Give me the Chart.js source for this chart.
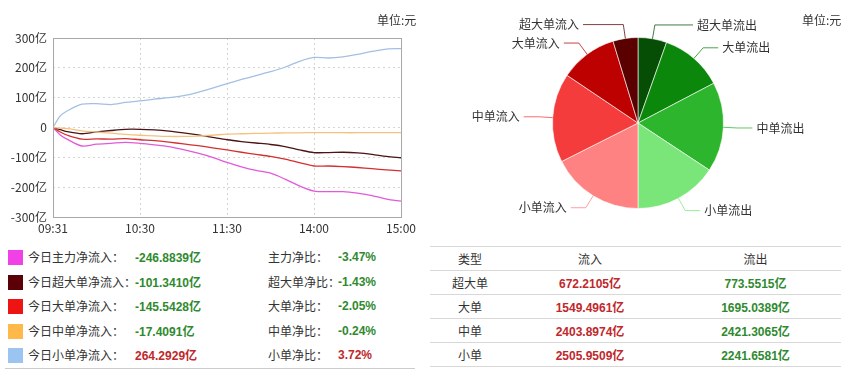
<!DOCTYPE html>
<html>
<head>
<meta charset="utf-8">
<script src="https://cdn.jsdelivr.net/npm/chart.js@4"></script>
<style>
  body { margin: 0; width: 850px; height: 377px; background: #fff; font-family: "Noto Sans CJK SC", "Noto Sans", sans-serif; color: #333; overflow: hidden; }
  #lineBox { position: absolute; left: 0; top: 0; width: 420px; height: 240px; }
  #pieBox { position: absolute; left: 420px; top: 0; width: 430px; height: 240px; }
  .unit { position: absolute; font-size: 12px; top: 11px; }
  #netTable { position: absolute; left: 5px; top: 245px; width: 410px; border-bottom: 1px solid #ccc; }
  .row { position: relative; height: 24.5px; font-size: 12px; }
  .row span { position: absolute; top: 4px; line-height: 16px; white-space: nowrap; }
  .sq { width: 15px; height: 15px; left: 3px; top: 5px !important; }
  .val { font-family: "Liberation Sans", "Noto Sans CJK SC", sans-serif; font-weight: bold; }
  #flowTable { position: absolute; left: 430px; top: 246px; width: 411px; border-collapse: collapse; font-size: 12px; }
  #flowTable td { height: 23px; text-align: center; border-top: 1px solid #d8d8d8; border-bottom: 1px solid #d8d8d8; padding: 0; }
</style>
</head>
<body>
<div id="lineBox"><canvas id="lineChart" width="420" height="240"></canvas></div>
<div class="unit" style="left:377px">单位:元</div>
<div id="pieBox"><canvas id="pieChart" width="430" height="240"></canvas></div>
<div class="unit" style="left:802px">单位:元</div>
<div id="netTable"></div>
<table id="flowTable"></table>
<script>
// minutes since 09:31 (trading minutes, 0..240)
const minutes = [0, 5, 10, 20, 30, 40, 50, 60, 70, 80, 90, 100, 110, 120, 130, 140, 150, 160, 170, 180, 190, 200, 210, 220, 230, 240];
const timeTicks = { 0: "09:31", 60: "10:30", 120: "11:30", 180: "14:00", 240: "15:00" };

const mainNet  = [0, -25, -40, -62, -56, -53, -50, -53, -58, -64, -74, -86, -100, -117, -132, -144, -153, -173, -196, -213, -215, -215, -220, -228, -240, -246.8839];
const superNet = [0, -7, -14, -21, -15, -10, -6, -6, -8, -12, -18, -25, -33, -41, -47, -52, -57, -64, -75, -84, -84, -83, -85, -90, -97, -101.341];
const bigNet   = [0, -15, -26, -39, -38, -39, -37, -41, -44, -49, -55, -61, -68, -75, -83, -90, -97, -106, -118, -129, -129, -131, -134, -138, -142, -145.5428];
const midNet   = [0, -2, -4, -11, -15, -19, -23, -26, -28, -30, -30, -29, -26, -22, -21, -20, -19, -18, -18, -17, -17, -17.5, -17.5, -17.4, -17.4, -17.4091];
const smallNet = [0, 39, 56, 78, 80, 77, 84, 89, 95, 100, 107, 118, 132, 147, 161, 174, 187, 202, 222, 235, 233, 237, 245, 255, 263, 264.2929];

const netLabels = ["今日主力净流入：", "今日超大单净流入：", "今日大单净流入：", "今日中单净流入：", "今日小单净流入："];
const netValues = [-246.8839, -101.3410, -145.5428, -17.4091, 264.2929];
const ratioLabels = ["主力净比：", "超大单净比：", "大单净比：", "中单净比：", "小单净比："];
const ratioValues = [-3.47, -1.43, -2.05, -0.24, 3.72];
const squareColors = ["#f040e6", "#5c0008", "#ee1414", "#ffb84a", "#9cc4f0"];
const lineColors = ["#e25ad8", "#4a1414", "#d43030", "#f5c27e", "#a3c0e2"];

const flowTypes = ["超大单", "大单", "中单", "小单"];
const inflow  = [672.2105, 1549.4961, 2403.8974, 2505.9509];
const outflow = [773.5515, 1695.0389, 2421.3065, 2241.6581];

const pieLabels = ["超大单流出", "大单流出", "中单流出", "小单流出", "小单流入", "中单流入", "大单流入", "超大单流入"];
const pieValues = [outflow[0], outflow[1], outflow[2], outflow[3], inflow[3], inflow[2], inflow[1], inflow[0]];
const pieColors = ["#064d06", "#0b880b", "#2db52d", "#7ae67a", "#ff8282", "#f53c3c", "#bd0000", "#5a0000"];

// Line chart
const seriesList = [mainNet, superNet, bigNet, midNet, smallNet];
const lineCtx = document.getElementById("lineChart").getContext("2d");

const frame = {
  id: "frame",
  afterDraw(chart) {
    const a = chart.chartArea, c = chart.ctx;
    c.save();
    c.strokeStyle = "#a8a8a8";
    c.lineWidth = 1;
    c.strokeRect(a.left + 0.5, a.top + 0.5, a.right - a.left, a.bottom - a.top);
    c.restore();
  }
};

new Chart(lineCtx, {
  type: "line",
  data: {
    datasets: seriesList.map((s, k) => ({
      data: s.map((v, i) => ({ x: minutes[i], y: v })),
      borderColor: lineColors[k],
      borderWidth: 1.3,
      pointRadius: 0,
      tension: 0.3,
      fill: false
    })).reverse()
  },
  options: {
    responsive: false,
    animation: false,
    layout: { padding: { top: 38, right: 18, left: 0, bottom: 0 } },
    plugins: { legend: { display: false }, tooltip: { enabled: false } },
    scales: {
      x: {
        type: "linear", min: 0, max: 240,
        afterFit: s => { s.height = 23; },
        afterBuildTicks: s => { s.ticks = [0, 60, 120, 180, 240].map(v => ({ value: v })); },
        ticks: { autoSkip: false, maxRotation: 0, padding: 4, color: "#333", font: { size: 12, family: "Noto Sans CJK SC" }, callback: v => timeTicks[v] },
        grid: { drawTicks: false, color: "#d4d4d4" },
        border: { display: false, dash: [2, 3] }
      },
      y: {
        min: -300, max: 300,
        afterFit: s => { s.width = 53; },
        ticks: { stepSize: 100, padding: 6, color: "#333", font: { size: 12, family: "Noto Sans CJK SC" }, callback: v => v === 0 ? "0" : v + "亿" },
        grid: { drawTicks: false, color: "#d4d4d4" },
        border: { display: false, dash: [2, 3] }
      }
    }
  },
  plugins: [frame]
});

// Pie chart with outside labels
const pieLabelPlugin = {
  id: "pieLabels",
  afterDatasetsDraw(chart) {
    const c = chart.ctx;
    const arcs = chart.getDatasetMeta(0).data;
    c.save();
    c.font = "12px 'Noto Sans CJK SC'";
    c.textBaseline = "middle";
    arcs.forEach((arc, i) => {
      const p = arc.getProps(["x", "y", "startAngle", "endAngle", "outerRadius"], true);
      const mid = (p.startAngle + p.endAngle) / 2;
      const dx = Math.cos(mid), dy = Math.sin(mid);
      const x1 = p.x + p.outerRadius * dx, y1 = p.y + p.outerRadius * dy;
      const x2 = p.x + (p.outerRadius + 14) * dx, y2 = p.y + (p.outerRadius + 14) * dy;
      const side = dx >= 0 ? 1 : -1;
      const x3 = p.x + side * Math.max(Math.abs(x2 - p.x) + 15, 55);
      c.strokeStyle = pieColors[i];
      c.globalAlpha = 0.75;
      c.lineWidth = 1;
      c.beginPath();
      c.moveTo(x1, y1); c.lineTo(x2, y2); c.lineTo(x3, y2);
      c.stroke();
      c.globalAlpha = 1;
      c.fillStyle = "#333";
      c.textAlign = side > 0 ? "left" : "right";
      c.fillText(pieLabels[i], x3 + side * 4, y2);
    });
    c.restore();
  }
};

new Chart(document.getElementById("pieChart").getContext("2d"), {
  type: "pie",
  data: { labels: pieLabels, datasets: [{ data: pieValues, backgroundColor: pieColors, borderColor: "rgba(255,255,255,0.6)", borderWidth: 1 }] },
  options: {
    responsive: false,
    animation: false,
    layout: { padding: { left: 132, right: 126, top: 37, bottom: 31 } },
    plugins: { legend: { display: false }, tooltip: { enabled: false } }
  },
  plugins: [pieLabelPlugin]
});

// Net flow table
const colorOf = v => v < 0 ? "#2f8a2f" : "#c0282c";
const net = document.getElementById("netTable");
netLabels.forEach((lab, i) => {
  const row = document.createElement("div");
  row.className = "row";
  row.innerHTML =
    `<span class="sq" style="background:${squareColors[i]}"></span>` +
    `<span style="left:23px">${lab}</span>` +
    `<span class="val" style="left:130px;color:${colorOf(netValues[i])}">${netValues[i].toFixed(4)}<span style="position:static;font-family:'Noto Sans CJK SC'">亿</span></span>` +
    `<span style="left:263px">${ratioLabels[i]}</span>` +
    `<span class="val" style="left:333px;color:${colorOf(ratioValues[i])}">${ratioValues[i].toFixed(2)}%</span>`;
  net.appendChild(row);
});

// Inflow / outflow table
const flow = document.getElementById("flowTable");
let html = `<tr><td style="width:80px">类型</td><td style="width:160px">流入</td><td>流出</td></tr>`;
flowTypes.forEach((t, i) => {
  html += `<tr><td>${t}</td>` +
    `<td class="val" style="color:#c0282c">${inflow[i].toFixed(4)}<span style="font-family:'Noto Sans CJK SC'">亿</span></td>` +
    `<td class="val" style="color:#2f8a2f">${outflow[i].toFixed(4)}<span style="font-family:'Noto Sans CJK SC'">亿</span></td></tr>`;
});
flow.innerHTML = html;
</script>
</body>
</html>
